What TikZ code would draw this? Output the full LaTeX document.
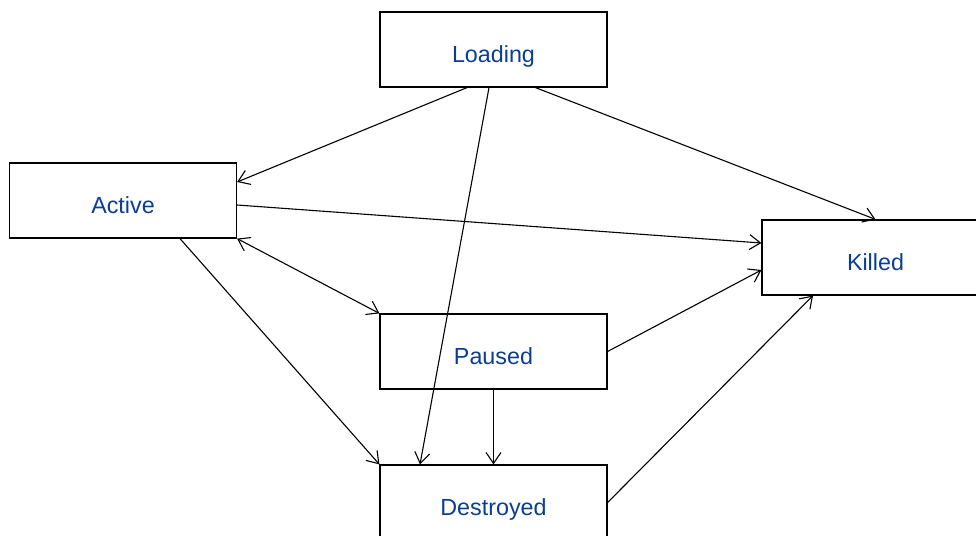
\documentclass[tikz,border=0pt]{standalone}
\usepackage{fontspec}
\setmainfont{Liberation Sans}
\usetikzlibrary{arrows.meta,calc}
\definecolor{txtblue}{RGB}{10,62,148}
\begin{document}
\begin{tikzpicture}[x=1pt,y=-1pt,
  state/.style={draw=black,line width=1.2pt,fill=white,minimum width=227pt,minimum height=75pt,
    inner sep=0pt,text height=26.4pt,text depth=0pt,font=\fontsize{23.3}{27}\selectfont,text=txtblue},
  arr/.style={line width=1.1pt,-{Straight Barb[length=11pt,width=15pt,line width=1.1pt]}},
  darr/.style={line width=1.1pt,{Straight Barb[length=11pt,width=15pt,line width=1.1pt]}-{Straight Barb[length=11pt,width=15pt,line width=1.1pt]}}]
\useasboundingbox (0,0) rectangle (976,535);
\fill[white] (0,0) rectangle (976,535);
\node[state] (load) at (493.5,49.5) {Loading};
\node[state] (act) at (123,200.5) {Active};
\node[state] (kill) at (875.5,257.5) {Killed};
\node[state] (pau) at (493.5,351.5) {Paused};
\node[state] (des) at (493.5,502.5) {Destroyed};
\draw[arr] ($(load.south)+(-26.5,0)$) -- ($(act.east)+(0,-18.5)$);
\draw[arr] ($(load.south)+(42,0)$) -- (kill.north);
\draw[arr] ($(load.south)+(-4.5,0)$) -- ($(des.north)+(-73.5,0)$);
\draw[arr] ($(act.east)+(0,4.5)$) -- ($(kill.west)+(0,-14.5)$);
\draw[darr] (act.south east) -- (pau.north west);
\draw[arr] ($(act.south)+(57,0)$) -- (des.north west);
\draw[arr] (pau.east) -- ($(kill.west)+(0,12.5)$);
\draw[arr] (pau.south) -- (des.north);
\draw[arr] (des.east) -- ($(kill.south)+(-62.5,0)$);
\end{tikzpicture}
\end{document}
